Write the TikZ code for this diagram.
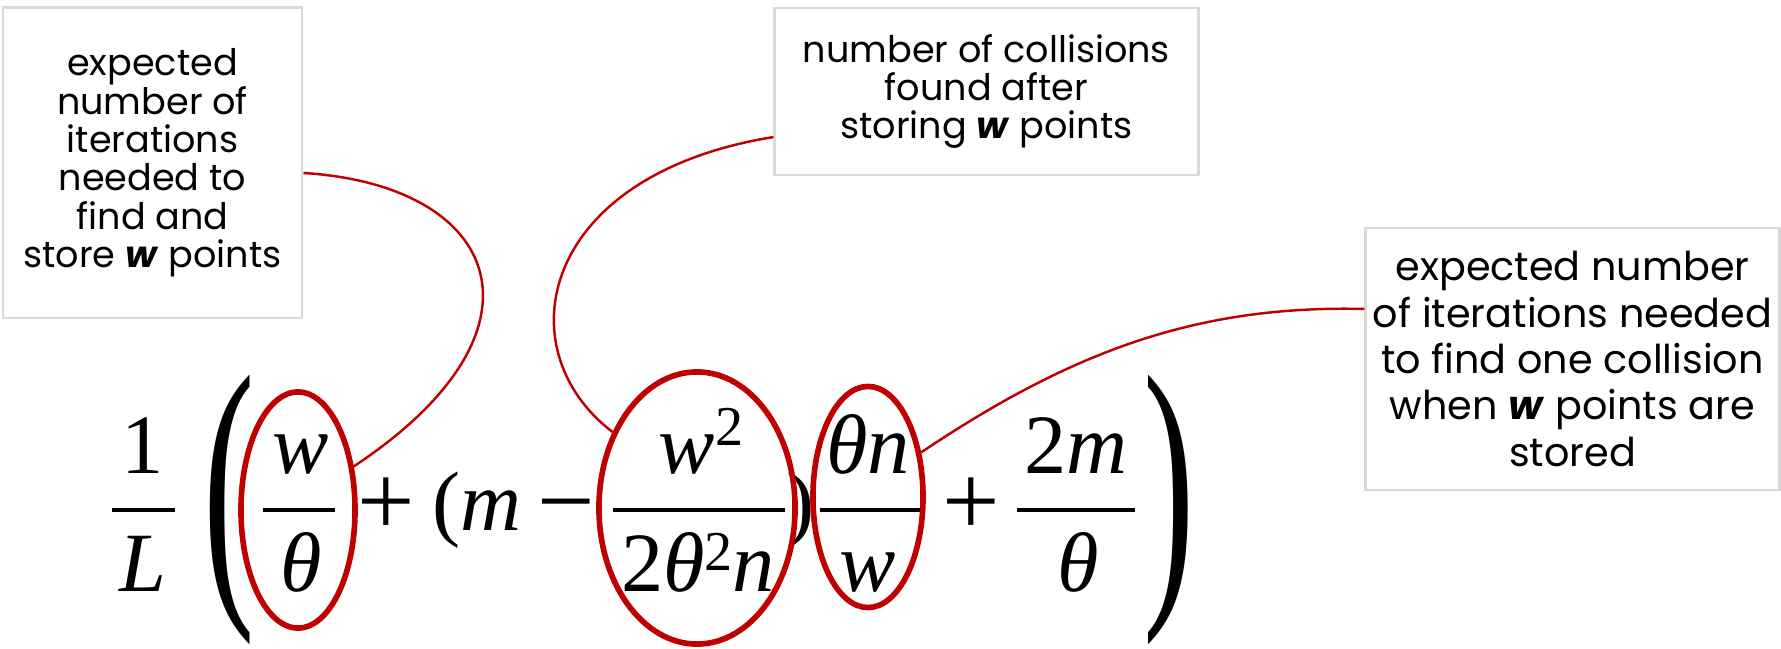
\documentclass[tikz,border=0pt]{standalone}
\usepackage{fontspec}
\setmainfont{Poppins}
\newfontfamily\eqfont{Liberation Serif}
\usepackage{graphicx}
\usetikzlibrary{shapes.geometric}
\definecolor{callred}{HTML}{C00000}
\definecolor{boxline}{HTML}{D9D9D9}

\begin{document}
\begin{tikzpicture}[x=0.01cm, y=-0.01cm,
    note/.style={draw=boxline, line width=0.8pt, align=center, inner sep=0pt},
    small/.style={font=\fontsize{10.4}{10.9}\selectfont},
    large/.style={font=\fontsize{11.3}{13.2}\selectfont},
    sym/.style={font=\eqfont\fontsize{24}{24}\selectfont\itshape, inner sep=0pt, anchor=base},
    up/.style={sym, font=\eqfont\fontsize{24}{24}\selectfont\upshape},
    op/.style={sym, font=\eqfont\fontsize{29}{29}\selectfont\upshape},
    delim/.style={font=\eqfont\fontsize{36}{36}\selectfont, inner sep=0pt},
    bar/.style={line width=1.15pt},
    ring/.style={draw=callred, line width=1.6pt, ellipse, inner sep=0pt},
    link/.style={draw=callred, line width=0.7pt}]
  \useasboundingbox (0,0) rectangle (1781,649);

  \node[note, small, minimum width=2.99cm, minimum height=3.10cm] (box1) at (152.5,163)
    {expected\\ number of\\ iterations\\ needed to\\ find and\\ store \textbf{\textit{w}} points};
  \node[note, small, minimum width=4.23cm, minimum height=1.67cm] (box2) at (986.5,91.5)
    {number of collisions\\ found after\\ storing \textbf{\textit{w}} points};
  \node[note, large, minimum width=4.13cm, minimum height=2.62cm] (box3) at (1572.5,359)
    {expected number\\ of iterations needed\\ to find one collision\\ when \textbf{\textit{w}} points are\\ stored};

  \node[up] (one) at (143,474) {1};
  \node[sym] (ell) at (143,592) {L};
  \node[delim] (lpar) at (229,510) {\scalebox{1.22}[2.35]{(}};
  \node[sym] (wa) at (301,474) {w};
  \node[sym] (tha) at (301,592) {θ};
  \node[op] (plusa) at (386,536) {+};
  \node[up] (opn) at (477,531) {(\textit{m}};
  \node[op] (minus) at (566,536) {−};
  \node[sym] (wsq) at (701,474) {w\raisebox{8pt}{\fontsize{16}{16}\selectfont\upshape 2}};
  \node[up] (den) at (698,592) {2\textit{θ}\raisebox{6pt}{\fontsize{16}{16}\selectfont 2}\textit{n}};
  \node[up] (cls) at (801,531) {)};
  \node[sym] (thn) at (868,474) {θn};
  \node[sym] (wb) at (868,592) {w};
  \node[op] (plusb) at (971,536) {+};
  \node[up] (twom) at (1076,474) {2\textit{m}};
  \node[sym] (thb) at (1078,592) {θ};
  \node[delim] (rpar) at (1169,510) {\scalebox{1.22}[2.35]{)}};

  \draw[bar] (112,510) -- (175,510);
  \draw[bar] (263,510) -- (335,510);
  \draw[bar] (613,510) -- (785,510);
  \draw[bar] (820,510) -- (920,510);
  \draw[bar] (1017,510) -- (1135,510);

  \node[ring, minimum width=1.14cm, minimum height=2.36cm] (e1) at (298,510) {};
  \node[ring, minimum width=1.96cm, minimum height=2.72cm] (e2) at (697,508) {};
  \node[ring, minimum width=1.10cm, minimum height=2.21cm] (e3) at (868,497) {};

  \draw[link] ([yshift=-0.1cm]box1.east) .. controls +(197,12) and +(207,-137) .. (e1.38);
  \draw[link] ([yshift=-0.455cm]box2.west) .. controls +(-235,38) and +(-108,-82) .. (e2.138);
  \draw[link] ([yshift=0.5cm]box3.west) .. controls +(-166,-4) and +(152,-102) .. (e3.40);
\end{tikzpicture}
\end{document}
